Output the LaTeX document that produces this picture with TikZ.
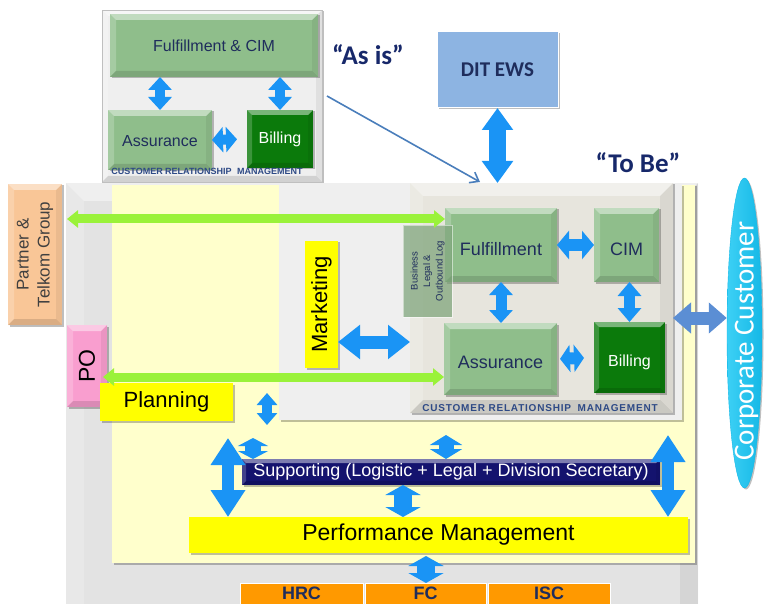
\documentclass[tikz,border=0pt]{standalone}
\usepackage{fontspec}
\setmainfont{Liberation Sans}
\newfontfamily\calfont{Carlito}
\newfontfamily\crmfont[LetterSpace=8]{Liberation Sans}
\usetikzlibrary{arrows.meta,shapes.geometric,shadows,calc}

\definecolor{frame}{HTML}{E3E3E3}
\definecolor{ylw}{HTML}{FFFFCC}
\definecolor{innerg}{HTML}{EFEFEF}
\definecolor{crmbg}{HTML}{E7E5DD}
\definecolor{grn}{HTML}{8FBE8B}
\definecolor{dgrn}{HTML}{0B7A0B}
\definecolor{navy}{HTML}{1F2D5C}
\definecolor{blu}{HTML}{1A94F5}
\definecolor{lime}{HTML}{9AF23A}
\definecolor{steel}{HTML}{5B8ED4}
\definecolor{thinb}{HTML}{4A7EBB}
\definecolor{peach}{HTML}{F9C697}
\definecolor{pinkc}{HTML}{F99ECF}
\definecolor{yel}{HTML}{FFFF00}
\definecolor{suppc}{HTML}{14136E}
\definecolor{org}{HTML}{FF9900}
\definecolor{dit}{HTML}{8DB4E2}
\definecolor{titl}{HTML}{17286A}
\definecolor{crmtxt}{HTML}{2E4A86}
\definecolor{cyl}{HTML}{3DD0F5}
\definecolor{cyr}{HTML}{14B8E6}

\newcommand\fsz[1]{\fontsize{#1}{#1}\selectfont}
\newcommand\mybevel[1]{%
 \path (path picture bounding box.north west) coordinate (bvNW)
       (path picture bounding box.north east) coordinate (bvNE)
       (path picture bounding box.south west) coordinate (bvSW)
       (path picture bounding box.south east) coordinate (bvSE);
 \fill[white,opacity=.45] (bvNW) -- (bvNE) -- ([shift={(-#1,-#1)}]bvNE) -- ([shift={(#1,-#1)}]bvNW) -- cycle;
 \fill[white,opacity=.2] (bvNW) -- ([shift={(#1,-#1)}]bvNW) -- ([shift={(#1,#1)}]bvSW) -- (bvSW) -- cycle;
 \fill[black,opacity=.12] (bvSW) -- ([shift={(#1,#1)}]bvSW) -- ([shift={(-#1,#1)}]bvSE) -- (bvSE) -- cycle;
 \fill[black,opacity=.06] (bvNE) -- ([shift={(-#1,-#1)}]bvNE) -- ([shift={(-#1,#1)}]bvSE) -- (bvSE) -- cycle;
}

\tikzset{
  bx/.style={rectangle,inner sep=0pt,outer sep=0pt},
  bev/.style={path picture={\mybevel{#1}}},
  shd/.style={drop shadow={shadow xshift=1.5pt,shadow yshift=-1.5pt,opacity=.25,fill=black}},
  gbox/.style={bx,fill=grn,bev=6pt,shd,text=navy,font=\fsz{18}},
  low/.style={text height=#1,text depth=0pt},
  bbox/.style={bx,fill=dgrn,bev=5pt,shd,text=white},
  fat/.style n args={3}{draw=blu,line width=#1pt,arrows={Triangle[width=#2pt,length=#3pt]-Triangle[width=#2pt,length=#3pt]}},
  limearrow/.style={draw=lime,line width=9pt,arrows={Triangle[width=17pt,length=11pt]-Triangle[width=17pt,length=11pt]}},
  orgbox/.style={bx,fill=org,draw=white,line width=.8pt,text=navy,font=\bfseries\fsz{18},minimum height=21pt}
}

\begin{document}
\begin{tikzpicture}[x=1pt,y=-1pt]
\useasboundingbox (0,0) rectangle (771,604);

% ---------- background regions ----------
\node[bx,fill=frame,bev=18pt,minimum width=632pt,minimum height=440pt] (frame) at (382,403) {};
\node[bx,fill=ylw,shd,minimum width=583pt,minimum height=378pt] (yreg) at (403.5,374) {};
\node[bx,fill=innerg,shd,minimum width=403pt,minimum height=235pt] (greg) at (480.5,302.5) {};

% ---------- "As is" ----------
\node[bx,fill=innerg,draw=black!25,bev=6pt,shd,minimum width=220pt,minimum height=172pt] (asisbox) at (212,96) {};
\node[gbox,font=\fsz{16},minimum width=208pt,minimum height=63pt] (afc) at (214,45.5) {Fulfillment \& CIM};
\node[gbox,font=\fsz{16},low=14pt,minimum width=104pt,minimum height=60pt] (aas) at (160,140) {Assurance};
\node[bbox,font=\fsz{16},minimum width=66pt,minimum height=58pt] (abi) at (280,139) {Billing};
\node[font=\bfseries\fsz{9},text=crmtxt] (acrm) at (207,171) {CUSTOMER RELATIONSHIP\hspace{3pt} MANAGEMENT};
\draw[fat={10}{23}{13}] (aas.north) -- (aas.north |- afc.south);
\draw[fat={10}{23}{13}] (abi.north) -- (abi.north |- afc.south);
\draw[fat={10}{25}{11},shorten >=10pt] (aas.east) -- (abi.west);

\node[font=\calfont\bfseries\fsz{27},text=titl] (asis) at (368,55) {“As is”};
\node[font=\calfont\bfseries\fsz{27},text=titl] (tobeT) at (638,163) {“To Be”};

% ---------- DIT EWS ----------
\node[bx,fill=dit,draw=white,line width=1pt,shd,text=navy,font=\calfont\bfseries\fsz{21},minimum width=121pt,minimum height=76pt] (dit) at (497.5,70) {DIT EWS};

% ---------- "To Be" CRM ----------
\node[bx,fill=crmbg,bev=13pt,shd,minimum width=263pt,minimum height=230pt] (tobe) at (541.5,298) {};
\node[gbox,low=21pt,minimum width=112pt,minimum height=74pt] (ful) at (501,245) {Fulfillment};
\node[gbox,low=21pt,minimum width=65pt,minimum height=74pt] (cim) at (626.5,245) {CIM};
\node[gbox,low=19pt,minimum width=113pt,minimum height=72pt] (ass) at (500.5,359) {Assurance};
\node[bbox,font=\fsz{16},low=17pt,minimum width=71pt,minimum height=71pt] (bil) at (629.5,357.5) {Billing};
\node[bx,fill=grn!85!black,fill opacity=.7,draw=white,draw opacity=.5,text=navy,text opacity=1,minimum width=49pt,minimum height=92pt,font=\fontsize{9.5}{12.5}\selectfont] (bus) at (427.5,271)
  {\rotatebox{90}{\begin{tabular}{@{}c@{}}Business\\Legal \&\\Outbound Log\end{tabular}}};
\node[font=\crmfont\bfseries\fsz{10},text=crmtxt] (crml) at (540,408) {CUSTOMER RELATIONSHIP\hspace{3pt} MANAGEMENT};

\draw[fat={12}{28}{12}] (ful.east) -- (cim.west);
\draw[fat={11}{23}{13}] (ful.south) -- (ful.south |- ass.north);
\draw[fat={11}{23}{14}] (bil.north) -- (bil.north |- cim.south);
\draw[fat={12}{27}{10},shorten <=3pt,shorten >=10pt] (ass.east) -- (bil.west);
\draw[fat={17}{30}{22}] (dit.south) -- (dit.south |- tobe.north);

\coordinate (tbin) at (480,182);
\draw[thinb,line width=1.6pt,-{Straight Barb[length=8pt,width=12pt]}] ([xshift=5pt]asisbox.east) -- (tbin);

% ---------- left side ----------
\node[bx,fill=peach,bev=6pt,shd,text=black!75,minimum width=54pt,minimum height=141pt,font=\fontsize{17}{21}\selectfont] (par) at (35,254.5)
  {\rotatebox{90}{\begin{tabular}{@{}c@{}}Partner \&\\Telkom Group\end{tabular}}};
\node[bx,fill=pinkc,bev=6pt,shd,minimum width=40pt,minimum height=82pt,font=\fsz{23}] (po) at (87,366) {\rotatebox{90}{PO}};
\node[bx,fill=yel,shd,minimum width=133pt,minimum height=38pt,font=\fsz{22}] (plan) at (166.5,402) {Planning};
\node[bx,fill=yel,shd,minimum width=33pt,minimum height=127pt,font=\fsz{22}] (mkt) at (321.5,304.5) {\rotatebox{90}{Marketing}};

\coordinate (g1) at (0,219);
\coordinate (g2) at (0,377);
\draw[limearrow,shorten <=5pt] (par.east |- g1) -- (ful.west |- g1);
\draw[limearrow,shorten <=-4pt] (po.east |- g2) -- (ass.west |- g2);

\coordinate (my) at (0,342);
\draw[fat={13}{33}{22}] (mkt.east |- my) -- (tobe.west |- my);

% ---------- Corporate Customer ----------
\node[ellipse,inner sep=0pt,left color=cyl,right color=cyr,draw=cyr,shd,minimum width=35pt,minimum height=310pt] (corp) at (744.5,333) {};
\node[text=white,font=\calfont\fsz{29},rotate=90] (corpt) at ([xshift=2pt,yshift=-8pt]corp.center) {Corporate Customer};
\coordinate (cy) at (0,318);
\draw[draw=steel,line width=13pt,arrows={Triangle[width=30pt,length=18pt]-Triangle[width=30pt,length=18pt]}] (tobe.east |- cy) -- (corp.west |- cy);

% ---------- bottom ----------
\node[bx,fill=suppc,bev=4pt,shd,text=white,minimum width=418pt,minimum height=26pt,font=\fsz{18}] (sup) at (451,472) {Supporting (Logistic + Legal + Division Secretary)};
\node[bx,fill=yel,shd,minimum width=499pt,minimum height=36pt,font=\fsz{23}] (perf) at (438.5,535) {Performance Management};
\node[orgbox,minimum width=123pt] (hrc) at (301.5,593.5) {HRC};
\node[orgbox,minimum width=121pt] (fc) at (425.5,593.5) {FC};
\node[orgbox,minimum width=122pt] (isc) at (549,593.5) {ISC};

\coordinate (pa1) at (267,393);
\coordinate (pa2) at (267,425);
\draw[fat={10}{20}{12}] (pa1) -- (pa2);
\coordinate (lt) at (228,438);
\draw[fat={12}{33}{27}] (lt) -- (perf.north -| lt);
\coordinate (rt) at (668,435);
\draw[fat={12}{33}{27}] (rt) -- (perf.north -| rt);
\coordinate (st) at (253,438);
\draw[fat={16}{30}{8}] (st) -- (sup.north -| st);
\coordinate (mt) at (446,435);
\draw[fat={15}{32}{10}] (mt) -- (sup.north -| mt);
\coordinate (ml) at (403,0);
\draw[fat={18}{35}{10}] (sup.south -| ml) -- (perf.north -| ml);
\coordinate (bt) at (426,0);
\draw[fat={18}{35}{10},shorten <=3pt] (perf.south -| bt) -- (fc.north -| bt);
\end{tikzpicture}
\end{document}
